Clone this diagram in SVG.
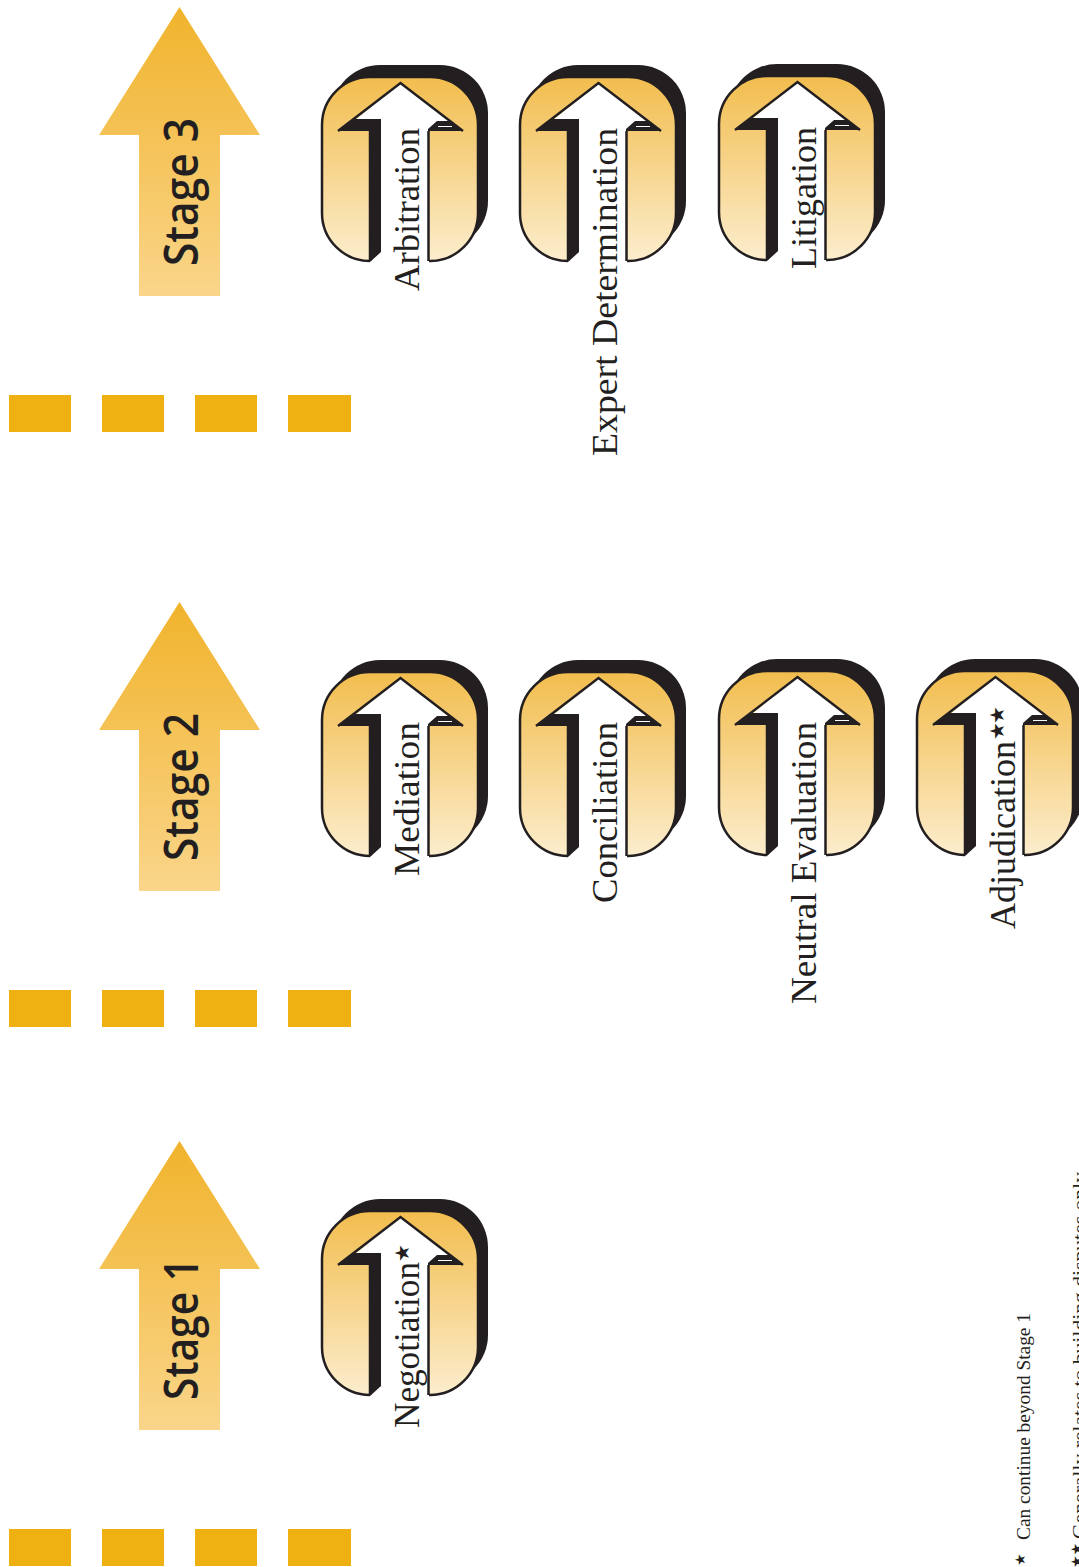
<svg xmlns="http://www.w3.org/2000/svg" width="1079" height="1567" viewBox="0 0 1079 1567">
<style>
.lbl{font-family:"Liberation Serif","Times New Roman",serif;font-size:35px;fill:#231f20}
.stage{font-family:"Open Sans","Noto Sans",sans-serif;font-size:47px;font-weight:600;fill:#231f20}
.note{font-family:"Liberation Serif","Times New Roman",serif;font-size:18.500px;fill:#231f20}
.star{font-family:"DejaVu Sans",sans-serif;fill:#231f20}
.dash{fill:#efb111}
.k{fill:#231f20}
</style>
<defs>
<linearGradient id="gs" x1="0" y1="0" x2="0" y2="1"><stop offset="0" stop-color="#f0b32c"/><stop offset="1" stop-color="#fad58a"/></linearGradient>
<linearGradient id="gb" x1="0" y1="0" x2="0" y2="1"><stop offset="0" stop-color="#f2bd4e"/><stop offset="1" stop-color="#fcedcd"/></linearGradient>
<g id="stageArrow"><polygon points="179.500,7 260,135 220,135 220,296 139,296 139,135 99,135" fill="url(#gs)"/></g>
<g id="dashes"><rect class="dash" x="9" y="395" width="62" height="37"/><rect class="dash" x="102" y="395" width="62" height="37"/><rect class="dash" x="195" y="395" width="62" height="37"/><rect class="dash" x="288" y="395" width="63" height="37"/></g>
<g id="token">
<rect class="k" x="332" y="65" width="156" height="184" rx="48" ry="48"/>
<rect x="322" y="77" width="156" height="184" rx="48" ry="48" fill="url(#gb)" stroke="#231f20" stroke-width="2.500"/>
<polygon points="400.500,83 462,131 429,131 429,264 370,264 370,261 381,252 381,120 355,120" fill="#fff"/>
<polygon class="k" points="338,131 355,119 381,119 381,252 370,262 370,131"/>
<polygon class="k" points="428,131 428,129 437,121 449,121 463,131"/>
<path d="M438 126.500H452" stroke="#fff" stroke-width="1" fill="none"/>
<path d="M338 131L400.500 83L463 131M428.500 131V261" stroke="#231f20" stroke-width="2.500" fill="none"/>
<path d="M370 261V131" stroke="#231f20" stroke-width="2.500" fill="none"/>
</g>
</defs>
<g id="stage-3"><use href="#stageArrow"/><text class="stage" transform="translate(198 266) rotate(-90)" textLength="148" lengthAdjust="spacingAndGlyphs">Stage 3</text></g>
<g id="stage-2"><use href="#stageArrow" y="595"/><text class="stage" transform="translate(198 861) rotate(-90)" textLength="148" lengthAdjust="spacingAndGlyphs">Stage 2</text></g>
<g id="stage-1"><use href="#stageArrow" y="1134"/><text class="stage" transform="translate(198 1400) rotate(-90)" textLength="142" lengthAdjust="spacingAndGlyphs">Stage 1</text></g>
<g id="dashes-3"><use href="#dashes"/></g>
<g id="dashes-2"><use href="#dashes" y="595"/></g>
<g id="dashes-1"><use href="#dashes" y="1134"/></g>
<g id="arbitration"><use href="#token"/><text class="lbl" transform="translate(419 291) rotate(-90)" textLength="163" lengthAdjust="spacingAndGlyphs">Arbitration</text></g>
<g id="expert-determination"><use href="#token" x="198"/><text class="lbl" transform="translate(617 456) rotate(-90)" textLength="328" lengthAdjust="spacingAndGlyphs">Expert Determination</text></g>
<g id="litigation"><use href="#token" x="397" y="-1"/><text class="lbl" transform="translate(816 269) rotate(-90)" textLength="142" lengthAdjust="spacingAndGlyphs">Litigation</text></g>
<g id="mediation"><use href="#token" y="595"/><text class="lbl" transform="translate(419 876) rotate(-90)" textLength="154" lengthAdjust="spacingAndGlyphs">Mediation</text></g>
<g id="conciliation"><use href="#token" x="198" y="595"/><text class="lbl" transform="translate(617 903) rotate(-90)" textLength="181" lengthAdjust="spacingAndGlyphs">Conciliation</text></g>
<g id="neutral-evaluation"><use href="#token" x="397" y="594"/><text class="lbl" transform="translate(816 1004) rotate(-90)" textLength="282" lengthAdjust="spacingAndGlyphs">Neutral Evaluation</text></g>
<g id="adjudication"><use href="#token" x="595" y="594"/><text class="lbl" transform="translate(1015 929) rotate(-90)" textLength="188" lengthAdjust="spacingAndGlyphs">Adjudication</text><text class="star" font-size="20" transform="translate(1004 740) rotate(-90)" textLength="34">★★</text></g>
<g id="negotiation"><use href="#token" y="1134"/><text class="lbl" transform="translate(419 1428) rotate(-90)" textLength="166" lengthAdjust="spacingAndGlyphs">Negotiation</text><text class="star" font-size="20" transform="translate(409 1262) rotate(-90)">★</text></g>
<g id="footnotes">
<text class="star" font-size="14" transform="translate(1025 1566) rotate(-90)">★</text>
<text class="note" transform="translate(1030 1540) rotate(-90)" textLength="227" lengthAdjust="spacingAndGlyphs">Can continue beyond Stage 1</text>
<text class="star" font-size="14" transform="translate(1081 1568) rotate(-90)">★★</text>
<text class="note" transform="translate(1086 1539) rotate(-90)" textLength="367" lengthAdjust="spacingAndGlyphs">Generally relates to building disputes only</text>
</g>
</svg>
